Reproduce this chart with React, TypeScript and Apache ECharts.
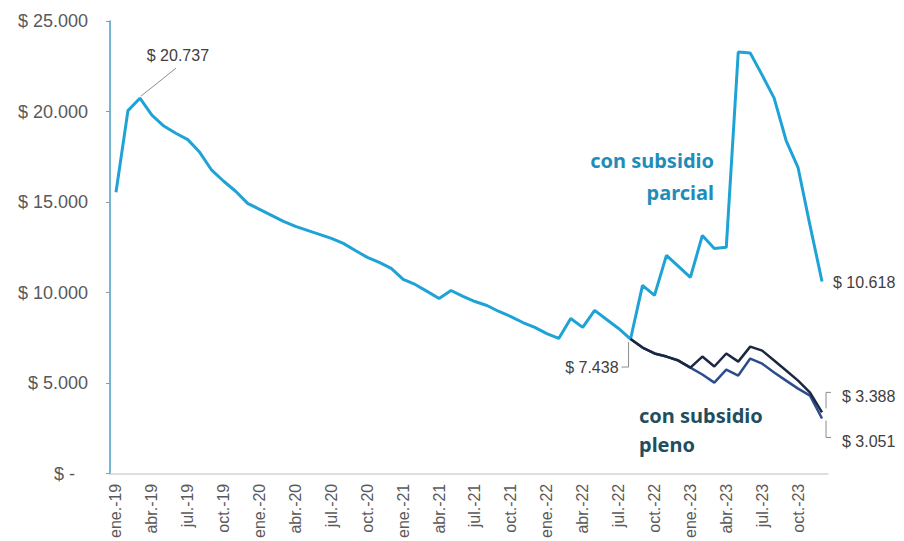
import React, { useEffect, useRef } from "react";
import * as echarts from "echarts";

const MESES = ["ene.", "feb.", "mar.", "abr.", "may.", "jun.", "jul.", "ago.", "sept.", "oct.", "nov.", "dic."];
const ANIOS = ["19", "20", "21", "22", "23"];
const categorias = ANIOS.flatMap((a) => MESES.map((m) => `${m}-${a}`));

const subsidioParcial = [
  15540, 20050, 20737, 19800, 19200, 18800, 18450, 17750, 16760, 16150, 15600, 14930,
  14600, 14270, 13940, 13660, 13440, 13220, 13000, 12720, 12330, 11950, 11670, 11340,
  10730, 10450, 10070, 9680, 10120, 9790, 9510, 9290, 8960, 8680, 8350, 8080,
  7740, 7470, 8570, 8080, 9020, 8520, 8020, 7438, 10400, 9850, 12060, 11450,
  10840, 13160, 12440, 12500, 23290, 23230, 22010, 20740, 18400, 16900, 13700, 10618,
];

const INICIO_PLENO = 43;
const plenoAlto = [7438, 6970, 6640, 6470, 6250, 5860, 6470, 5920, 6640, 6190, 7020, 6800, 6250, 5700, 5140, 4480, 3388];
const plenoBajo = [7438, 6970, 6640, 6470, 6250, 5860, 5480, 5030, 5750, 5420, 6360, 6080, 5590, 5140, 4700, 4310, 3051];

const fmt = (v: number) => Math.round(v).toString().replace(/\B(?=(\d{3})+(?!\d))/g, ".");
const FONT = "Liberation Sans, Arial, sans-serif";

export default function App() {
  const ref = useRef<HTMLDivElement>(null);
  useEffect(() => {
    const chart = echarts.init(ref.current!, null, { renderer: "svg" });
    const pad = (arr: number[]) =>
      categorias.map((_, i) => (i < INICIO_PLENO ? null : arr[i - INICIO_PLENO] ?? null));

    chart.setOption({
      animation: false,
      backgroundColor: "#ffffff",
      grid: { left: 110, right: 76, top: 21, bottom: 67, containLabel: false },
      xAxis: {
        type: "category",
        data: categorias,
        boundaryGap: true,
        axisLine: { show: true, lineStyle: { color: "#d4d4d4", width: 1.5 } },
        axisTick: { show: false },
        axisLabel: {
          interval: 2,
          rotate: 90,
          margin: 10,
          color: "#595959",
          fontSize: 16,
          fontFamily: FONT,
        },
        splitLine: { show: false },
      },
      yAxis: {
        type: "value",
        min: 0,
        max: 25000,
        interval: 5000,
        axisLine: { show: true, lineStyle: { color: "#4a9cc6", width: 1.5 } },
        axisTick: { show: true, length: 4, lineStyle: { color: "#7f9fb0" } },
        splitLine: { show: false },
        axisLabel: {
          margin: 22,
          color: "#595959",
          fontSize: 18,
          fontFamily: FONT,
          formatter: (v: number) => (v === 0 ? "{z|$ -}" : "$ " + fmt(v)),
          rich: {
            z: { color: "#595959", fontSize: 18, fontFamily: FONT, padding: [0, 13, 0, 0] },
          },
        },
      },
      series: [
        {
          name: "con subsidio parcial",
          type: "line",
          data: subsidioParcial,
          showSymbol: false,
          symbol: "none",
          lineStyle: { color: "#1fa3d6", width: 3 },
          itemStyle: { color: "#1fa3d6" },
          z: 2,
        },
        {
          name: "con subsidio pleno (bajo)",
          type: "line",
          data: pad(plenoBajo),
          showSymbol: false,
          symbol: "none",
          lineStyle: { color: "#2c4c8c", width: 2.5 },
          itemStyle: { color: "#2c4c8c" },
          z: 3,
        },
        {
          name: "con subsidio pleno (alto)",
          type: "line",
          data: pad(plenoAlto),
          showSymbol: false,
          symbol: "none",
          lineStyle: { color: "#1b2842", width: 2.5 },
          itemStyle: { color: "#1b2842" },
          z: 4,
        },
      ],
    });

    const px = (i: number, v: number) =>
      chart.convertToPixel({ seriesIndex: 0 }, [i, v]) as number[];

    const last = categorias.length - 1;
    const P = px(2, subsidioParcial[2]);
    const J = px(INICIO_PLENO, subsidioParcial[INICIO_PLENO]);
    const E = px(last, subsidioParcial[last]);
    const D = px(last, plenoAlto[plenoAlto.length - 1]);
    const B = px(last, plenoBajo[plenoBajo.length - 1]);

    const lead = { stroke: "#8c8c8c", lineWidth: 1, fill: null };
    const num = (text: string, x: number, y: number, align: string) => ({
      type: "text",
      x,
      y,
      style: { text, fill: "#404040", fontSize: 16, fontFamily: FONT, align, verticalAlign: "middle" },
      z: 10,
    });
    const title = (text: string, x: number, y: number, align: string, fill: string) => ({
      type: "text",
      x,
      y,
      style: { text, fill, fontSize: 20, fontWeight: "bold", fontFamily: "Noto Sans, Open Sans, sans-serif", align, verticalAlign: "middle" },
      z: 10,
    });

    chart.setOption({
      graphic: [
        { type: "line", shape: { x1: P[0] + 1, y1: P[1] - 2, x2: P[0] + 36, y2: P[1] - 30 }, style: lead, z: 10 },
        num("$ " + fmt(subsidioParcial[2]), P[0] + 38, P[1] - 43, "center"),
        { type: "polyline", shape: { points: [[J[0] - 2, J[1] + 3], [J[0] - 2, J[1] + 28], [J[0] - 9, J[1] + 28]] }, style: lead, z: 10 },
        num("$ " + fmt(subsidioParcial[INICIO_PLENO]), J[0] - 12, J[1] + 28, "right"),
        num("$ " + fmt(subsidioParcial[last]), E[0] + 11, E[1] + 1, "left"),
        { type: "polyline", shape: { points: [[D[0] + 4, D[1] - 4], [D[0] + 4, D[1] - 20], [D[0] + 9, D[1] - 20]] }, style: lead, z: 10 },
        num("$ " + fmt(plenoAlto[plenoAlto.length - 1]), D[0] + 20, D[1] - 16, "left"),
        { type: "polyline", shape: { points: [[B[0] + 4, B[1] + 2], [B[0] + 4, B[1] + 19], [B[0] + 9, B[1] + 19]] }, style: lead, z: 10 },
        num("$ " + fmt(plenoBajo[plenoBajo.length - 1]), B[0] + 20, B[1] + 23, "left"),
        title("con subsidio", 714, 160, "right", "#1f8dba"),
        title("parcial", 714, 192, "right", "#1f8dba"),
        title("con subsidio", 639, 415, "left", "#1f4e5f"),
        title("pleno", 639, 444, "left", "#1f4e5f"),
      ],
    });

    return () => chart.dispose();
  }, []);
  return <div ref={ref} style={{ position: "absolute", left: 0, top: 0, width: 904, height: 541 }} />;
}
